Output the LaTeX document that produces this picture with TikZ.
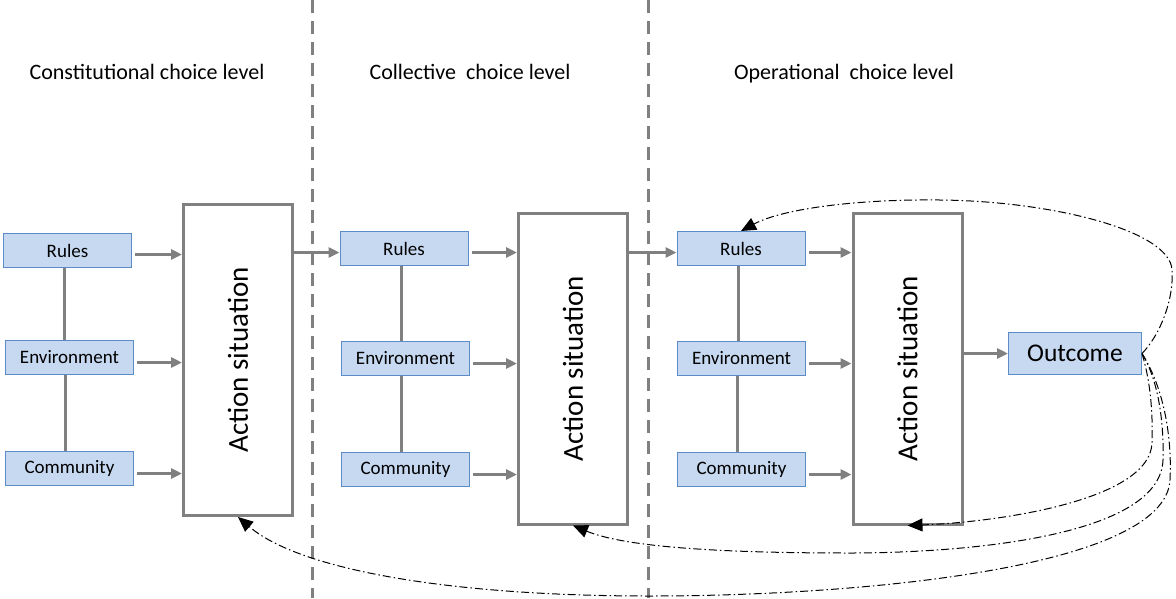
\documentclass[tikz,border=0pt]{standalone}
\usepackage{fontspec}
\usepackage{graphicx}
\setmainfont{Carlito}
\usetikzlibrary{shapes,arrows.meta,positioning}

\definecolor{boxblue}{RGB}{198,217,241}
\definecolor{lineblue}{RGB}{91,139,200}
\definecolor{linegray}{RGB}{128,128,128}

\begin{document}
\begin{tikzpicture}[x=1pt,y=-1pt,
	part/.style={draw=lineblue,fill=boxblue,line width=1pt,minimum width=128pt,minimum height=34pt,inner sep=0pt,font=\fontsize{19}{22}\selectfont},
	act/.style={draw=linegray,fill=white,line width=3pt,minimum width=109pt,minimum height=311pt,inner sep=0pt,font=\fontsize{29}{34}\selectfont},
	flow/.style={draw=linegray,line width=3pt,-{Triangle[length=11pt,width=10pt]}},
	link/.style={draw=linegray,line width=3pt},
	back/.style={line width=1pt,dash pattern=on 8pt off 3pt on 1.5pt off 3pt,-{Triangle[length=15pt,width=13pt]}},
	level/.style={font=\fontsize{22}{26}\selectfont},
	sep/.style={draw=linegray,line width=3pt,dash pattern=on 13pt off 8pt}]
	\useasboundingbox (0,0) rectangle (1176,598);
	
	\draw[sep] (312,0) -- (312,598);
	\draw[sep] (648,0) -- (648,598);
	
	\node[level] (l1) at (147,72) {Constitutional choice level};
	\node[level] (l2) at (470,72) {Collective\ \ choice level};
	\node[level] (l3) at (844,74) {Operational\ \ choice level};
	
	\node[part] (r1) at (67.5,250.5) {Rules};
	\node[part] (e1) at (69.5,357.5) {Environment};
	\node[part] (c1) at (69.5,468.5) {Community};
	\node[act] (a1) at (238,360) {\rotatebox{90}{Action situation}};
	
	\node[part] (r2) at (404,248.5) {Rules};
	\node[part] (e2) at (405.5,358.5) {Environment};
	\node[part] (c2) at (405.5,469.5) {Community};
	\node[act] (a2) at (573,368.5) {\rotatebox{90}{Action situation}};
	
	\node[part] (r3) at (741,248.5) {Rules};
	\node[part] (e3) at (741.5,358.5) {Environment};
	\node[part] (c3) at (741.5,469.5) {Community};
	\node[act] (a3) at (907.5,368.5) {\rotatebox{90}{Action situation}};
	
	\node[part,minimum width=133pt,minimum height=42pt,font=\fontsize{25.5}{30}\selectfont] (o) at (1075,353.5) {Outcome};
	
	\foreach \i in {1,2,3}{
		\draw[link] ([xshift=-3pt]r\i.south) -- ([xshift=-3pt]r\i.south |- e\i.north);
		\draw[link] ([xshift=-4pt]e\i.south) -- ([xshift=-4pt]e\i.south |- c\i.north);
		\draw[flow] ([xshift=3pt,yshift=-4pt]r\i.east) -- ([yshift=-4pt]r\i.east -| a\i.west);
		\draw[flow] ([xshift=3pt,yshift=-5pt]e\i.east) -- ([yshift=-5pt]e\i.east -| a\i.west);
		\draw[flow] ([xshift=3pt,yshift=-5pt]c\i.east) -- ([yshift=-5pt]c\i.east -| a\i.west);
	}
	\draw[flow] ([yshift=-4pt]r2.west -| a1.east) -- ([yshift=-4pt]r2.west);
	\draw[flow] ([yshift=-4pt]r3.west -| a2.east) -- ([yshift=-4pt]r3.west);
	\draw[flow] (a3.east |- o.west) -- (o.west);
	
	\draw[back] (o.east) .. controls (1160,335) and (1174,300) .. (1172,270)
		.. controls (1170,230) and (1050,201) .. (940,200)
		.. controls (850,199) and (780,210) .. (r3.north);
	\draw[back] (o.east) .. controls (1150,380) and (1153,410) .. (1152,443)
		.. controls (1150,500) and (1000,522) .. (a3.south);
	\draw[back] (o.east) .. controls (1158,380) and (1164,420) .. (1163,460)
		.. controls (1160,540) and (950,553) .. (850,553)
		.. controls (700,553) and (620,545) .. (a2.south);
	\draw[back] (o.east) .. controls (1165,390) and (1172,440) .. (1170,480)
		.. controls (1165,570) and (850,596) .. (650,596)
		.. controls (450,596) and (300,570) .. (a1.south);
\end{tikzpicture}
\end{document}
